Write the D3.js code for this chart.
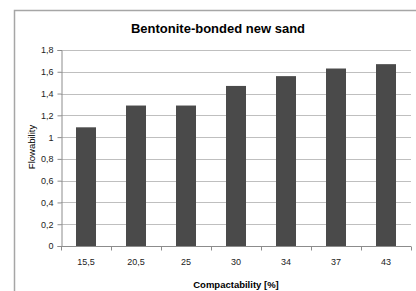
<!DOCTYPE html>
<html>
<head>
<meta charset="utf-8">
<script src="https://cdnjs.cloudflare.com/ajax/libs/d3/7.8.5/d3.min.js"></script>
<style>
body { margin: 0; background: #fff; }
text { font-family: "Liberation Sans", Arial, sans-serif; }
</style>
</head>
<body>
<script>
var categories = ["15,5", "20,5", "25", "30", "34", "37", "43"]
var flowability = [1.09, 1.29, 1.29, 1.47, 1.56, 1.63, 1.67]
var yTicks = [0, 0.2, 0.4, 0.6, 0.8, 1, 1.2, 1.4, 1.6, 1.8]

var svg = d3.select("body").append("svg")
	.attr("width", 416)
	.attr("height", 291)

// chart frame
svg.append("rect")
	.attr("x", 14.5).attr("y", 10.5)
	.attr("width", 420).attr("height", 300)
	.attr("fill", "none")
	.style("stroke", "#a6a6a6")
	.style("stroke-width", 1.5)

var plotLeft = 61, plotRight = 411, plotTop = 50, plotBottom = 246

var x = d3.scaleBand().domain(categories).range([plotLeft, plotRight]).paddingInner(0.6).paddingOuter(0.3)
var y = d3.scaleLinear().domain([0, 1.8]).range([plotBottom, plotTop])

// gridlines
svg.append("g")
	.selectAll("line")
	.data(yTicks.slice(1))
	.enter()
	.append("line")
	.attr("x1", plotLeft).attr("x2", plotRight)
	.attr("y1", function(d) { return Math.round(y(d)) + 0.5 })
	.attr("y2", function(d) { return Math.round(y(d)) + 0.5 })
	.style("stroke", "#bfbfbf")

svg.append("g")
	.selectAll("rect")
	.data(flowability)
	.enter()
	.append("rect")
	.attr("x", function(d, i) { return x(categories[i]) })
	.attr("width", x.bandwidth())
	.attr("y", function(d) { return y(d) })
	.attr("height", function(d) { return plotBottom - y(d) })
	.attr("fill", "#4a4a4a")

// y axis
var yAxis = svg.append("g")
	.attr("transform", "translate(" + (plotLeft + 0.5) + ",0)")
	.call(d3.axisLeft(y).tickValues(yTicks).tickSize(4).tickPadding(4)
		.tickFormat(function(d) { return String(d).replace(".", ",") }))
yAxis.selectAll("line, path").style("stroke", "#8c8c8c")
yAxis.selectAll("text").style("font-size", "9px").attr("fill", "#222")

// x axis with ticks at band boundaries
var xAxis = svg.append("g")
	.attr("transform", "translate(0," + (plotBottom + 0.5) + ")")
	.call(d3.axisBottom(x).tickSize(0).tickPadding(12))
xAxis.select("path").remove()
xAxis.selectAll("text").style("font-size", "9px").attr("fill", "#222")
xAxis.append("line").attr("x1", plotLeft).attr("x2", plotRight).style("stroke", "#8c8c8c")
var step = x.step()
xAxis.selectAll("line.sep")
	.data(d3.range(categories.length + 1))
	.enter()
	.append("line")
	.attr("class", "sep")
	.attr("x1", function(i) { return Math.round(plotLeft + i * step) + 0.5 })
	.attr("x2", function(i) { return Math.round(plotLeft + i * step) + 0.5 })
	.attr("y1", 0).attr("y2", 4)
	.style("stroke", "#8c8c8c")

svg.append("text")
	.attr("x", 218).attr("y", 33)
	.attr("text-anchor", "middle")
	.style("font-size", "13px").style("font-weight", "bold")
	.text("Bentonite-bonded  new sand")

svg.append("text")
	.attr("x", 236).attr("y", 288)
	.attr("text-anchor", "middle")
	.style("font-size", "9.5px").style("font-weight", "bold")
	.text("Compactability  [%]")

svg.append("text")
	.attr("transform", "translate(35,147) rotate(-90)")
	.attr("text-anchor", "middle")
	.style("font-size", "9.5px")
	.text("Flowability")
</script>
</body>
</html>
